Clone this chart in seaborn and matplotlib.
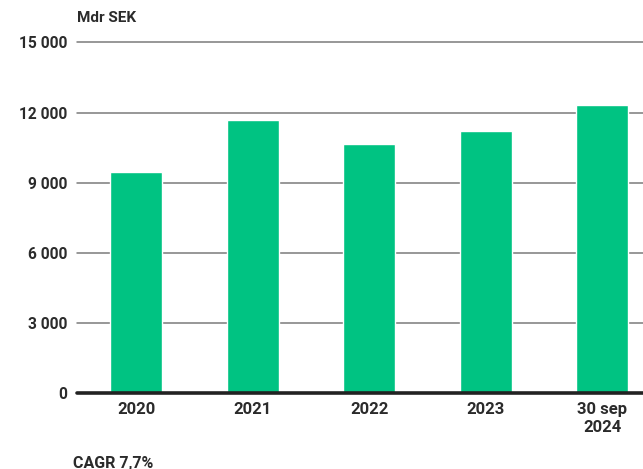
import numpy as np
import matplotlib
matplotlib.use("Agg")
import matplotlib.pyplot as plt
import seaborn as sns
import pandas as pd

# data
years = ["2020", "2021", "2022", "2023", "30 sep\n2024"]
values = [9480, 11700, 10660, 11220, 12330]
yticks = [0, 3000, 6000, 9000, 12000, 15000]
ytick_labels = ["0", "3 000", "6 000", "9 000", "12 000", "15 000"]

green = "#00C382"
text_col = "#2b2b2b"

sns.set_theme(style="white")
plt.rcParams["font.family"] = ["Roboto", "DejaVu Sans"]
plt.rcParams["font.weight"] = "bold"

df = pd.DataFrame({"Period": years, "Value": values})

fig = plt.figure(figsize=(6.43, 4.69), dpi=100)
ax = fig.add_axes([0.1198, 0.1614, 0.8802, 0.748])

sns.barplot(data=df, x="Period", y="Value", color=green, saturation=1,
            width=0.446, ax=ax, zorder=3)

ax.set_ylim(0, 15000)
ax.set_xlim(-0.506, 4.35)
ax.set_yticks(yticks)
ax.set_yticklabels(ytick_labels)
for y in yticks[1:]:
    ax.axhline(y, color="#7a7a7a", lw=1.1, zorder=1, clip_on=False)
ax.axhline(0, color="#222222", lw=2.6, zorder=4, clip_on=False)

for s in ax.spines.values():
    s.set_visible(False)
ax.grid(False)
ax.set_xlabel("")
ax.set_ylabel("")
ax.tick_params(axis="y", length=0, pad=7, labelsize=11.2, labelcolor=text_col)
ax.tick_params(axis="x", length=0, pad=6, labelsize=12, labelcolor=text_col)
for lab in ax.get_xticklabels() + ax.get_yticklabels():
    lab.set_fontweight("bold")
    lab.set_linespacing(1.3)

fig.text(77 / 643, 1 - 18 / 469, "Mdr SEK", ha="left", va="center",
         fontsize=11, fontweight="bold", color=text_col)
fig.text(73 / 643, 1 - 463 / 469, "CAGR 7,7%", ha="left", va="center",
         fontsize=11.5, fontweight="bold", color=text_col)

fig.savefig("out.png", dpi=100)
